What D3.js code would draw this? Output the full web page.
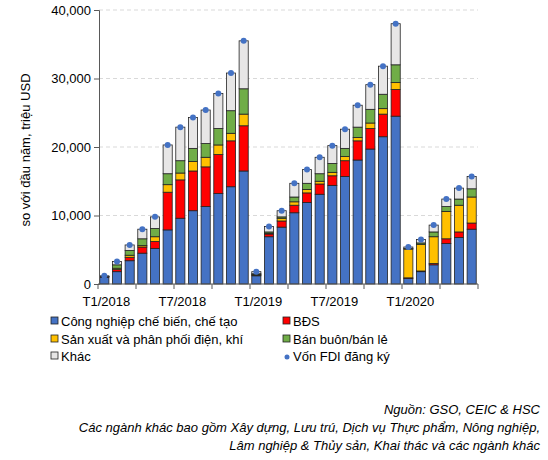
<!DOCTYPE html>
<html><head><meta charset="utf-8">
<script src="https://cdn.jsdelivr.net/npm/d3@7"></script>
<style>body{margin:0;background:#fff}text{font-family:"Liberation Sans",Arial,sans-serif}</style>
</head><body><svg id="c" width="548" height="460"></svg>
<script>
const months = ["T1/2018","T2/2018","T3/2018","T4/2018","T5/2018","T6/2018","T7/2018","T8/2018","T9/2018","T10/2018","T11/2018","T12/2018",
"T1/2019","T2/2019","T3/2019","T4/2019","T5/2019","T6/2019","T7/2019","T8/2019","T9/2019","T10/2019","T11/2019","T12/2019",
"T1/2020","T2/2020","T3/2020","T4/2020","T5/2020","T6/2020"];
const tickLabels = ["T1/2018","T7/2018","T1/2019","T7/2019","T1/2020"];
const congNghiep = [1000,1800,3400,4500,5200,7900,9600,10700,11300,13200,14200,16500, 1200,6900,8300,10400,11900,13100,14400,15700,18100,19700,21500,24500, 800,1800,2800,5900,6800,8000];
const bds = [50,300,500,900,1000,5500,5600,5800,5800,5700,6700,6600, 100,400,900,1100,1400,1500,1400,2300,2800,3000,3300,3900, 100,100,200,700,800,900];
const dien = [20,200,300,200,700,1100,1000,1400,1400,1400,1100,1700, 100,100,400,500,500,400,500,600,500,800,800,1000, 4200,3900,3900,4000,3900,3800];
const banBuon = [30,500,700,1000,1200,1600,1800,1900,2000,2400,3300,3700, 100,200,200,700,900,1100,1300,1200,1500,2000,2100,2600, 100,200,700,700,900,1200];
const khac = [100,500,800,1400,1700,4200,4900,4500,4900,5100,5500,7000, 300,800,900,2000,2000,2400,2600,2800,3200,3600,4100,6000, 200,500,1000,1100,1600,1800];
const totals = [1200,3300,5700,8000,9800,20300,22900,24300,25400,27800,30800,35500, 1800,8400,10700,14700,16700,18500,20200,22600,26100,29100,31800,38000, 5400,6500,8600,12400,14000,15700];
const yTicks = [0,10000,20000,30000,40000];
const seriesNames = ["Công nghiệp chế biến, chế tạo","BĐS","Sản xuất và phân phối điện, khí","Bán buôn/bán lẻ","Khác"];
const colors = ["#4472C4","#FF0000","#FFC000","#70AD47","#E7E6E6"];

const svg = d3.select("#c");
const x = d3.scaleBand().domain(months).range([98,478]).paddingInner(0.28).paddingOuter(0.14);
const y = d3.scaleLinear().domain([0,40000]).range([284,10]);

svg.append("g").selectAll("line").data(yTicks.slice(1)).join("line")
 .attr("x1",99).attr("x2",478).attr("y1",d=>y(d)).attr("y2",d=>y(d))
 .attr("stroke","#d9d9d9").attr("stroke-dasharray","4,3");

const table = months.map((m,i)=>({m, s0:congNghiep[i], s1:bds[i], s2:dien[i], s3:banBuon[i], s4:khac[i]}));
const stack = d3.stack().keys(["s0","s1","s2","s3","s4"])(table);
stack.forEach((layer,k)=>{
  svg.append("g").selectAll("rect").data(layer).join("rect")
   .attr("x",d=>x(d.data.m)).attr("width",x.bandwidth())
   .attr("y",d=>y(d[1])).attr("height",d=>y(d[0])-y(d[1]))
   .attr("fill",colors[k]).attr("stroke","#222").attr("stroke-width",0.8);
});
svg.append("g").selectAll("circle").data(totals).join("circle")
 .attr("cx",(d,i)=>x(months[i])+x.bandwidth()/2).attr("cy",d=>y(d)).attr("r",3).attr("fill","#4472C4");

const ya = svg.append("g").attr("transform","translate(99,0)")
 .call(d3.axisLeft(y).tickValues(yTicks).tickFormat(d3.format(",")).tickSize(5));
ya.select(".domain").attr("stroke","#595959");
ya.selectAll(".tick line").attr("stroke","#595959");
ya.selectAll("text").attr("font-size",13).attr("fill","#000").attr("font-family","Liberation Sans, Arial");

const xa = svg.append("g").attr("transform","translate(0,284)");
xa.append("line").attr("x1",98).attr("x2",478).attr("stroke","#595959");
xa.selectAll("line.t").data(months.filter((m,i)=>i%3===0).concat(["end"])).join("line")
 .attr("class","t").attr("x1",d=>d==="end"?478:x(d)-x.step()*x.paddingInner()/2).attr("x2",d=>d==="end"?478:x(d)-x.step()*x.paddingInner()/2)
 .attr("y1",0).attr("y2",5).attr("stroke","#595959");
xa.selectAll("text").data(tickLabels).join("text")
 .attr("x",d=>x(d)+x.bandwidth()/2+2).attr("y",22).attr("text-anchor","middle").attr("font-size",13).text(d=>d);

svg.append("text").attr("transform","translate(30,150) rotate(-90)").attr("text-anchor","middle")
 .attr("font-size",13).text("so với đầu năm, triệu USD");

const leg = [[0,55,326],[1,287,326],[2,55,344],[3,287,344],[4,55,361]];
leg.forEach(([k,lx,ly])=>{
  svg.append("rect").attr("x",lx-4).attr("y",ly-9).attr("width",7).attr("height",7).attr("fill",colors[k]).attr("stroke","#222").attr("stroke-width",0.8);
  svg.append("text").attr("x",lx+6).attr("y",ly).attr("font-size",13).text(seriesNames[k]);
});
svg.append("circle").attr("cx",287).attr("cy",357).attr("r",2.5).attr("fill","#4472C4");
svg.append("text").attr("x",293).attr("y",361).attr("font-size",13).text("Vốn FDI đăng ký");

["Nguồn: GSO, CEIC & HSC","Các ngành khác bao gồm Xây dựng, Lưu trú, Dịch vụ Thực phẩm, Nông nghiệp,","Lâm nghiệp & Thủy sản, Khai thác và các ngành khác"].forEach((t,i)=>{
  svg.append("text").attr("x",540).attr("y",414+i*18).attr("text-anchor","end").attr("font-size",13).attr("font-style","italic").text(t);
});
</script></body></html>
